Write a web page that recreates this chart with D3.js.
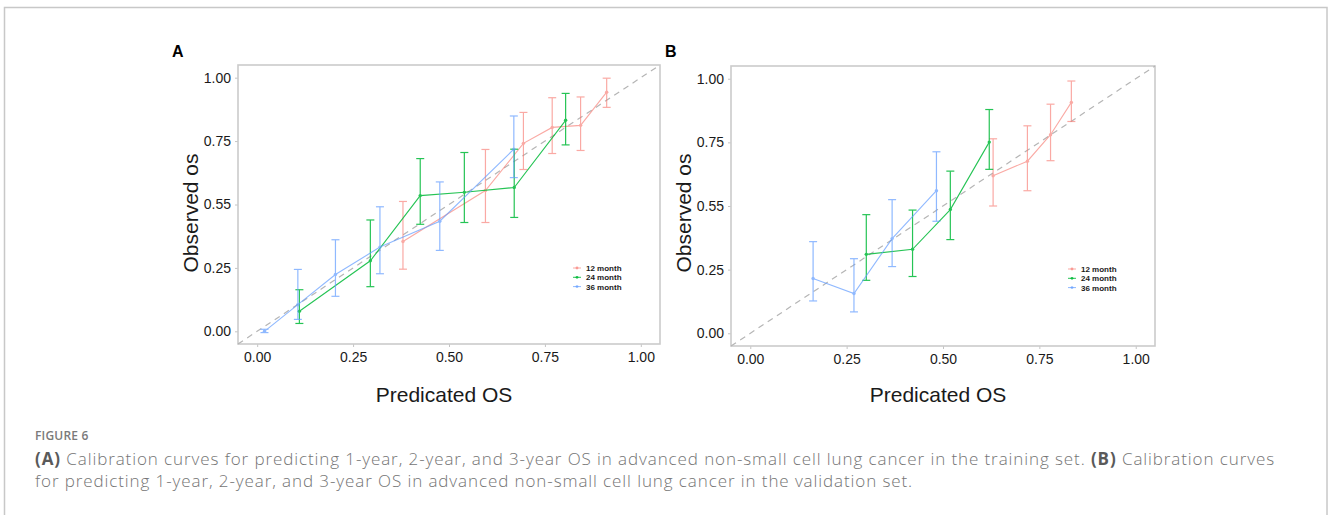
<!DOCTYPE html>
<html><head><meta charset="utf-8">
<script src="https://cdn.jsdelivr.net/npm/d3@7"></script>
<style>body{margin:0;background:#fff}svg{display:block}</style>
</head><body>
<svg id="fig" width="1328" height="515"></svg>
<script>
// ---- data ----
const tickValues = [0, 0.25, 0.5, 0.75, 1];
const xTickLabels = ["0.00", "0.25", "0.50", "0.75", "1.00"];
const yTickLabels = ["0.00", "0.25", "0.55", "0.75", "1.00"];
const seriesNames = ["12 month", "24 month", "36 month"];
const seriesColors = ["#F8766D", "#00BA38", "#619CFF"];
const seriesOpacity = [0.62, 0.85, 0.7];

// Panel A (training set)
const a12_x  = [0.380, 0.595, 0.694, 0.769, 0.843, 0.911];
const a12_y  = [0.354, 0.555, 0.741, 0.804, 0.812, 0.943];
const a12_lo = [0.245, 0.429, 0.638, 0.701, 0.713, 0.883];
const a12_hi = [0.512, 0.717, 0.863, 0.921, 0.924, 0.998];
const a24_x  = [0.110, 0.295, 0.425, 0.540, 0.670, 0.804];
const a24_y  = [0.079, 0.278, 0.535, 0.548, 0.567, 0.832];
const a24_lo = [0.031, 0.176, 0.422, 0.429, 0.449, 0.735];
const a24_hi = [0.164, 0.439, 0.681, 0.705, 0.718, 0.938];
const a36_x  = [0.019, 0.106, 0.204, 0.320, 0.476, 0.669];
const a36_y  = [0.000, 0.105, 0.224, 0.332, 0.434, 0.718];
const a36_lo = [-0.005, 0.047, 0.138, 0.227, 0.319, 0.606];
const a36_hi = [0.008, 0.244, 0.361, 0.491, 0.589, 0.849];

// Panel B (validation set)
const b12_x  = [0.630, 0.719, 0.779, 0.833];
const b12_y  = [0.619, 0.676, 0.780, 0.907];
const b12_lo = [0.500, 0.560, 0.678, 0.832];
const b12_hi = [0.764, 0.815, 0.900, 0.991];
const b24_x  = [0.301, 0.421, 0.519, 0.620];
const b24_y  = [0.310, 0.330, 0.486, 0.751];
const b24_lo = [0.208, 0.223, 0.368, 0.644];
const b24_hi = [0.466, 0.484, 0.637, 0.879];
const b36_x  = [0.163, 0.269, 0.368, 0.483];
const b36_y  = [0.215, 0.156, 0.372, 0.560];
const b36_lo = [0.127, 0.084, 0.262, 0.440];
const b36_hi = [0.360, 0.293, 0.525, 0.713];

const panelLetters = ["A", "B"];
const xTitle = "Predicated OS";
const yTitle = "Observed os";
const figLabel = "FIGURE 6";

// ---- drawing ----
const svg = d3.select("#fig");
const FONT = "Arial, 'Liberation Sans', Helvetica, sans-serif";

svg.append("rect").attr("x", 4.5).attr("y", 7.5).attr("width", 1322.5).attr("height", 520)
  .attr("fill", "none").attr("stroke", "#c8c8c8").attr("stroke-width", 1.5);

function zip(xs, ys, lo, hi) { return xs.map((x, i) => ({x, y: ys[i], lo: lo[i], hi: hi[i]})); }

function drawPanel(box, series, letter) {
  const x = d3.scaleLinear().domain([-0.05, 1.05]).range([box.left, box.right]);
  const y = d3.scaleLinear().domain([-0.05, 1.05]).range([box.bottom, box.top]);
  const g = svg.append("g");

  const xAxis = d3.axisBottom(x).tickValues(tickValues).tickSize(3).tickPadding(5)
    .tickFormat((d, i) => xTickLabels[i]);
  const yAxis = d3.axisLeft(y).tickValues(tickValues).tickSize(3).tickPadding(4)
    .tickFormat((d, i) => yTickLabels[i]);
  const gx = g.append("g").attr("transform", `translate(0,${box.bottom})`).call(xAxis);
  const gy = g.append("g").attr("transform", `translate(${box.left},0)`).call(yAxis);
  [gx, gy].forEach(a => {
    a.select(".domain").remove();
    a.selectAll(".tick line").attr("stroke", "#c4c4c4");
    a.selectAll(".tick text").attr("fill", "#1a1a1a").style("font-family", FONT).style("font-size", "14px");
  });

  g.append("rect").attr("x", box.left).attr("y", box.top)
    .attr("width", box.right - box.left).attr("height", box.bottom - box.top)
    .attr("fill", "none").attr("stroke", "#cbcbcb").attr("stroke-width", 1.6);

  g.append("line").attr("x1", x(-0.05)).attr("y1", y(-0.05)).attr("x2", x(1.05)).attr("y2", y(1.05))
    .attr("stroke", "#b5b5b5").attr("stroke-width", 1.2).attr("stroke-dasharray", "6,5");

  const line = d3.line().x(d => x(d.x)).y(d => y(d.y));
  series.forEach((s, k) => {
    const sg = g.append("g").attr("opacity", seriesOpacity[k]);
    const c = seriesColors[k];
    sg.selectAll("line.eb").data(s).join("line").attr("class", "eb")
      .attr("x1", d => x(d.x)).attr("x2", d => x(d.x))
      .attr("y1", d => y(d.lo)).attr("y2", d => y(d.hi))
      .attr("stroke", c).attr("stroke-width", 1.2);
    ["lo", "hi"].forEach(key => {
      sg.selectAll("line.cap" + key).data(s).join("line").attr("class", "cap" + key)
        .attr("x1", d => x(d.x) - 4).attr("x2", d => x(d.x) + 4)
        .attr("y1", d => y(d[key])).attr("y2", d => y(d[key]))
        .attr("stroke", c).attr("stroke-width", 1.2);
    });
    sg.append("path").datum(s).attr("d", line).attr("fill", "none")
      .attr("stroke", c).attr("stroke-width", 1.1);
    sg.selectAll("circle").data(s).join("circle")
      .attr("cx", d => x(d.x)).attr("cy", d => y(d.y)).attr("r", 1.7).attr("fill", c);
  });

  const lg = g.append("g");
  seriesNames.forEach((name, k) => {
    const ly = box.top + 203 + k * 9.3;
    const kx = box.right - 83;
    lg.append("line").attr("x1", kx - 4).attr("x2", kx + 4).attr("y1", ly).attr("y2", ly)
      .attr("stroke", seriesColors[k]).attr("stroke-width", 1).attr("opacity", seriesOpacity[k]);
    lg.append("circle").attr("cx", kx).attr("cy", ly).attr("r", 1.4)
      .attr("fill", seriesColors[k]).attr("opacity", seriesOpacity[k]);
    lg.append("text").attr("x", kx + 9).attr("y", ly + 3).text(name)
      .style("font-family", FONT).style("font-size", "8px").style("font-weight", "bold").attr("fill", "#1a1a1a");
  });

  g.append("text").attr("x", (box.left + box.right) / 2 - 5).attr("y", 402)
    .attr("text-anchor", "middle").text(xTitle)
    .style("font-family", FONT).style("font-size", "21px").attr("fill", "#1a1a1a");
  g.append("text").attr("transform", `translate(${box.left - 40},213) rotate(-90)`)
    .attr("text-anchor", "middle").text(yTitle)
    .style("font-family", FONT).style("font-size", "21px").attr("fill", "#1a1a1a");
  g.append("text").attr("x", box.left - 66).attr("y", 57).text(letter)
    .style("font-family", FONT).style("font-size", "16px").style("font-weight", "bold").attr("fill", "#000");
}

drawPanel({left: 238, right: 660, top: 65, bottom: 344},
  [zip(a12_x, a12_y, a12_lo, a12_hi), zip(a24_x, a24_y, a24_lo, a24_hi), zip(a36_x, a36_y, a36_lo, a36_hi)],
  panelLetters[0]);
drawPanel({left: 731, right: 1155, top: 66, bottom: 346},
  [zip(b12_x, b12_y, b12_lo, b12_hi), zip(b24_x, b24_y, b24_lo, b24_hi), zip(b36_x, b36_y, b36_lo, b36_hi)],
  panelLetters[1]);

// caption
const CAP = "'Open Sans', 'Noto Sans', sans-serif";
svg.append("text").attr("x", 35).attr("y", 440).text(figLabel)
  .style("font-family", CAP).style("font-size", "12px").style("font-weight", "600")
  .style("letter-spacing", "0.2px").attr("fill", "#7a7a7a");
const l1 = svg.append("text").attr("x", 35).attr("y", 465)
  .style("font-family", CAP).style("font-size", "17px").style("font-weight", "300").attr("fill", "#747474");
l1.append("tspan").style("font-weight", "bold").attr("fill", "#5a5a5a").text("(A)");
l1.append("tspan").text(" Calibration curves for predicting 1-year, 2-year, and 3-year OS in advanced non-small cell lung cancer in the training set. ");
l1.append("tspan").style("font-weight", "bold").attr("fill", "#5a5a5a").text("(B)");
l1.append("tspan").text(" Calibration curves");
const l2 = svg.append("text").attr("x", 35).attr("y", 487)
  .style("font-family", CAP).style("font-size", "17px").style("font-weight", "300").attr("fill", "#747474")
  .text("for predicting 1-year, 2-year, and 3-year OS in advanced non-small cell lung cancer in the validation set.");
// widen letter spacing so line 1 spans the same width as in the figure
const w = l1.node().getComputedTextLength();
const n = l1.text().length;
const ls = Math.max(0, (1240 - w) / n);
l1.style("letter-spacing", ls + "px");
l2.style("letter-spacing", ls + "px");
</script>
</body></html>
